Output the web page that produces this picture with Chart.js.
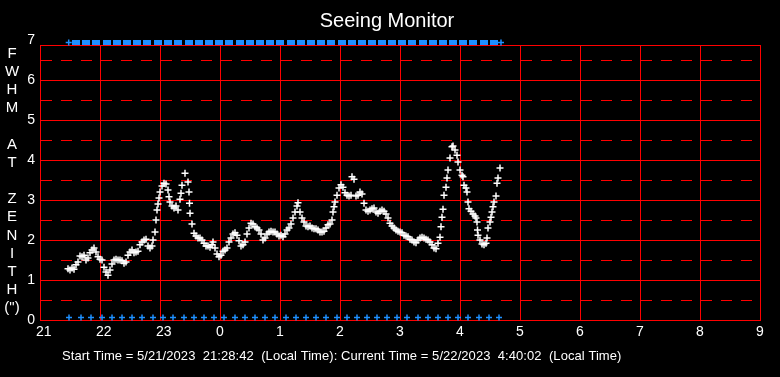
<!DOCTYPE html>
<html><head><meta charset="utf-8">
<script src="https://cdn.jsdelivr.net/npm/chart.js@4/dist/chart.umd.min.js"></script>
<style>html,body{margin:0;padding:0;background:#000;overflow:hidden}canvas{display:block}</style>
</head><body>
<canvas id="c" width="780" height="377"></canvas>
<script>
// ---- data (minutes after 21:00 local time, FWHM arcsec) ----
const minutes = [28,30,32,34,36,38,40,42,44,46,48,50,52,54,56,58,60,62,64,66,68,70,72,74,76,78,80,82,84,86,88,90,92,94,96,98,100,102,104,106,108,110,112,113,115,116,117,118,119,120,122,124,126,128,129,130,132,134,136,138,140,141,142,145,148,149,149.5,150,152,154,156,158,160,162,164,166,168,170,172,173,175,177,179,181,183,185,187,189,191,193,195,197,199,201,203,205,207,209,211,213,215,217,219,221,223,225,227,229,231,233,235,237,239,241,243,245,247,249,251,253,255,257,258,260,262,264,266,268,270,272,274,276,278,280,282,284,286,288,290,292,293,294,295,297,299,301,303,305,307,309,311,312,314,316,318,320,322,324,326,328,330,332,334,336,338,340,342,344,346,348,350,352,354,356,358,360,362,364,366,368,370,372,374,376,378,380,382,384,386,388,390,392,394,396,398,400,401,402,403,404,406,407,408,410,412,413,415,417,418,420,422,423,424,426,427,428,429,431,433,435,436,437,437.5,438,440,442,444,446,447,448,450,451,452,453,454,456,457,458,460];
const fwhm = [1.28,1.25,1.3,1.27,1.38,1.45,1.6,1.58,1.62,1.5,1.55,1.68,1.75,1.8,1.7,1.58,1.52,1.5,1.32,1.2,1.12,1.25,1.4,1.5,1.52,1.5,1.5,1.48,1.42,1.45,1.62,1.7,1.75,1.68,1.7,1.72,1.88,1.95,2.0,2.02,1.85,1.8,1.85,2.0,2.2,2.5,2.75,2.9,3.05,3.2,3.35,3.42,3.4,3.25,3.08,2.95,2.85,2.8,2.85,2.75,3.02,3.17,3.37,3.67,3.45,3.2,2.92,2.67,2.4,2.17,2.1,2.05,2.05,2.0,1.92,1.85,1.85,1.82,1.88,1.95,1.8,1.65,1.58,1.62,1.72,1.75,1.8,1.95,2.05,2.15,2.18,2.12,1.98,1.85,1.88,1.95,2.15,2.3,2.42,2.4,2.33,2.3,2.25,2.15,2.0,2.05,2.15,2.2,2.22,2.2,2.2,2.15,2.1,2.12,2.08,2.15,2.25,2.3,2.4,2.55,2.7,2.85,2.93,2.7,2.55,2.45,2.35,2.33,2.35,2.3,2.28,2.28,2.25,2.2,2.2,2.22,2.3,2.38,2.4,2.5,2.7,2.83,2.95,3.12,3.3,3.38,3.32,3.18,3.12,3.1,3.12,3.58,3.52,3.1,3.12,3.2,3.15,2.92,2.75,2.72,2.75,2.78,2.8,2.7,2.67,2.72,2.75,2.72,2.65,2.55,2.42,2.35,2.3,2.25,2.22,2.2,2.18,2.12,2.1,2.08,2.02,2.0,1.95,1.93,2.0,2.05,2.07,2.05,2.02,2.0,1.95,1.88,1.8,1.78,1.92,2.07,2.33,2.57,2.77,3.12,3.32,3.55,3.75,4.05,4.33,4.35,4.25,4.12,3.95,3.75,3.62,3.58,3.37,3.3,3.2,2.95,2.78,2.72,2.65,2.6,2.55,2.45,2.25,2.12,2.0,1.9,1.88,1.92,2.05,2.3,2.45,2.57,2.7,2.83,2.95,3.1,3.42,3.55,3.8];
// blue status markers (minutes after 21:00)
const bottomMarkMinutes = [29,41,51,62,72,82,92,102,113,123,133,144,154,164,174,184,195,205,215,225,235,246,256,266,276,286,297,307,317,327,337,347,357,367,378,388,398,408,418,428,439,449,459];
const bottomMarkLevel = 0.06;
const topMarkMinutes = [36,46,56,67,77,87,97,107,118,128,138,149,159,169,179,189,200,210,220,230,240,251,261,271,281,291,302,312,322,332,342,352,362,372,383,393,403,413,423,433,444,454];
const topEdgeMinutes = [28.7,461];
const topMarkLevel = 6.94;
const frameTopValue = 6.875;
const xHourMin = 21, xHourMax = 33;
const yMin = 0, yMax = 7;
const yTickValues = [0,0.5,1,1.5,2,2.5,3,3.5,4,4.5,5,5.5,6,6.5,7];
const axisLetters = ['F','W','H','M','','A','T','','Z','E','N','I','T','H','(")'];
const titleText = 'Seeing Monitor';
const footerText = 'Start Time = 5/21/2023  21:28:42  (Local Time): Current Time = 5/22/2023  4:40:02  (Local Time)';

const FONT = "'Liberation Sans', Arial, sans-serif";
const RED = '#ff0000';
const BLUE = '#1e90ff';
const toHour = m => xHourMin + m / 60;
const EPS = 1e-9; // keeps grid lines on whole pixel rows
const half = v => Math.round(v * 2) / 2;

const topMarkImg = document.createElement('canvas');
topMarkImg.width = 8; topMarkImg.height = 5;
(function(){ const g = topMarkImg.getContext('2d'); g.fillStyle = BLUE; g.fillRect(0,0,8,5); })();

const framePlugin = {
  id: 'frame',
  beforeDatasetsDraw(chart) {
    const {ctx, chartArea: a, scales: {y}} = chart;
    const top = Math.round(y.getPixelForValue(frameTopValue));
    ctx.save();
    ctx.fillStyle = '#000';
    ctx.fillRect(a.left - 2, a.top - 8, a.right - a.left + 4, top - a.top + 8);
    ctx.strokeStyle = RED; ctx.lineWidth = 1;
    ctx.beginPath();
    ctx.moveTo(a.left, top + 0.5); ctx.lineTo(a.right + 1, top + 0.5);
    ctx.stroke();
    ctx.restore();
  },
  afterDraw(chart) {
    const {ctx} = chart;
    ctx.save();
    ctx.fillStyle = '#fff';
    ctx.textAlign = 'center';
    ctx.textBaseline = 'alphabetic';
    ctx.font = '15px ' + FONT;
    axisLetters.forEach((l, i) => { if (l) ctx.fillText(l, 12, 58 + i * 18.15); });
    ctx.textAlign = 'left';
    ctx.font = '13px ' + FONT;
    try { ctx.letterSpacing = '0.06px'; } catch (e) {}
    ctx.fillText(footerText, 62, 360);
    ctx.restore();
  }
};

new Chart(document.getElementById('c'), {
  type: 'scatter',
  data: {
    datasets: [
      { data: minutes.map((m, i) => ({x: toHour(m), y: fwhm[i]})),
        pointStyle: 'cross', radius: 3.5, borderColor: '#fff', borderWidth: 1.5, showLine: false },
      { data: bottomMarkMinutes.map(m => ({x: toHour(m), y: bottomMarkLevel})),
        pointStyle: 'cross', radius: 3, borderColor: BLUE, borderWidth: 1.5, showLine: false, clip: false },
      { data: topMarkMinutes.map(m => ({x: toHour(m), y: topMarkLevel})),
        pointStyle: topMarkImg, radius: 4, borderColor: BLUE, backgroundColor: BLUE, showLine: false, clip: false },
      { data: topEdgeMinutes.map(m => ({x: toHour(m), y: topMarkLevel})),
        pointStyle: 'cross', radius: 3, borderColor: BLUE, borderWidth: 1.5, showLine: false, clip: false }
    ]
  },
  options: {
    responsive: false, animation: false, devicePixelRatio: 1,
    layout: { padding: { left: 14, right: 20, top: 0, bottom: 0 } },
    plugins: {
      legend: { display: false }, tooltip: { enabled: false },
      title: { display: true, text: titleText, color: '#fff',
               font: { family: FONT, size: 20, weight: 'normal', lineHeight: 1.2 },
               padding: { top: 9, bottom: 7 } }
    },
    scales: {
      x: {
        type: 'linear', min: xHourMin, max: xHourMax,
        ticks: { stepSize: 1, color: '#fff', font: { family: FONT, size: 14 }, padding: 4,
                 align: 'start', labelOffset: -4, maxRotation: 0, autoSkip: false,
                 callback: v => String(v % 24) },
        grid: { color: RED, lineWidth: 1, drawTicks: false },
        border: { display: true, color: RED, width: 1 },
        afterFit: s => { s.height = 57; s.paddingLeft = 0; s.paddingRight = 0; }
      },
      y: {
        min: yMin, max: yMax,
        afterBuildTicks: s => { s.ticks = yTickValues.map(v => ({ value: v - EPS })); },
        ticks: { color: '#fff', font: { family: FONT, size: 14 }, padding: 5, autoSkip: false,
                 callback: v => Number.isInteger(half(v)) ? String(half(v)) : '' },
        grid: { color: c => (c.tick && half(c.tick.value) === yMax) ? 'rgba(0,0,0,0)' : RED, lineWidth: 1, drawTicks: false },
        border: { display: true, color: RED, width: 1,
                  dash: c => (c.type === 'tick' && c.tick && !Number.isInteger(half(c.tick.value))) ? [11, 9] : [] },
        afterFit: s => { s.width = 26; s.paddingTop = 0; s.paddingBottom = 0; }
      }
    }
  },
  plugins: [framePlugin]
});
</script>
</body></html>
